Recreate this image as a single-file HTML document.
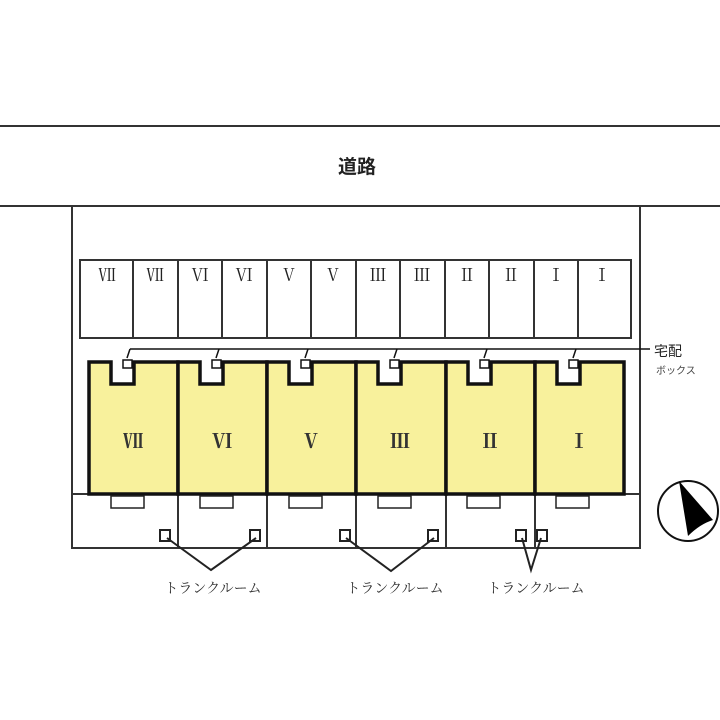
<!DOCTYPE html>
<html><head><meta charset="utf-8"><style>
html,body{margin:0;padding:0;background:#fff}
svg{display:block}
text{font-family:"Liberation Serif","Noto Serif CJK SC",serif}
.j{font-family:"Liberation Sans","Noto Sans CJK JP",sans-serif}
</style></head><body>
<svg width="720" height="720" viewBox="0 0 720 720" xmlns="http://www.w3.org/2000/svg">
<rect width="720" height="720" fill="#fff"/>
<g stroke="#333" stroke-width="2" fill="none">
<line x1="0" y1="126" x2="720" y2="126"/>
<line x1="0" y1="206" x2="720" y2="206"/>
<polyline points="72,206 72,548 640,548 640,206"/>
<rect x="80" y="260" width="551" height="78"/>
</g>
<g stroke="#333" stroke-width="2">
<line x1="133" y1="260" x2="133" y2="338"/>
<line x1="178" y1="260" x2="178" y2="338"/>
<line x1="222" y1="260" x2="222" y2="338"/>
<line x1="267" y1="260" x2="267" y2="338"/>
<line x1="311" y1="260" x2="311" y2="338"/>
<line x1="356" y1="260" x2="356" y2="338"/>
<line x1="400" y1="260" x2="400" y2="338"/>
<line x1="445" y1="260" x2="445" y2="338"/>
<line x1="489" y1="260" x2="489" y2="338"/>
<line x1="534" y1="260" x2="534" y2="338"/>
<line x1="578" y1="260" x2="578" y2="338"/>
<line x1="72" y1="494" x2="640" y2="494"/>
<line x1="178" y1="494" x2="178" y2="548"/>
<line x1="267" y1="494" x2="267" y2="548"/>
<line x1="356" y1="494" x2="356" y2="548"/>
<line x1="446" y1="494" x2="446" y2="548"/>
<line x1="535" y1="494" x2="535" y2="548"/>
</g>
<g font-size="17" fill="#222" text-anchor="middle">
<text x="107" y="281">Ⅶ</text><text x="155" y="281">Ⅶ</text>
<text x="200" y="281">Ⅵ</text><text x="244" y="281">Ⅵ</text>
<text x="289" y="281">Ⅴ</text><text x="333" y="281">Ⅴ</text>
<text x="378" y="281">Ⅲ</text><text x="422" y="281">Ⅲ</text>
<text x="467" y="281">Ⅱ</text><text x="511" y="281">Ⅱ</text>
<text x="556" y="281">Ⅰ</text><text x="602" y="281">Ⅰ</text>
</g>
<text x="357" y="173" class="j" font-size="19" font-weight="bold" text-anchor="middle" fill="#222">道路</text>
<!-- buildings -->
<g stroke="#111" stroke-width="3.5" fill="#f8f19c">
<path d="M89,362 H111 V384 H134 V362 H178 V494 H89 Z"/>
<path d="M178,362 H200 V384 H223 V362 H267 V494 H178 Z"/>
<path d="M267,362 H289 V384 H312 V362 H356 V494 H267 Z"/>
<path d="M356,362 H378 V384 H401 V362 H446 V494 H356 Z"/>
<path d="M446,362 H468 V384 H491 V362 H535 V494 H446 Z"/>
<path d="M535,362 H557 V384 H580 V362 H624 V494 H535 Z"/>
</g>
<g font-size="20" font-weight="bold" fill="#333" text-anchor="middle">
<text x="133" y="448">Ⅶ</text><text x="222" y="448">Ⅵ</text>
<text x="311" y="448">Ⅴ</text><text x="400" y="448">Ⅲ</text>
<text x="490" y="448">Ⅱ</text><text x="579" y="448">Ⅰ</text>
</g>
<!-- delivery boxes -->
<g stroke="#111" stroke-width="1.5" fill="#fff">
<line x1="130" y1="349" x2="650" y2="349" fill="none"/>
<path d="M130,349 L127,358 M219,349 L216,358 M308,349 L305,358 M397,349 L394,358 M487,349 L484,358 M576,349 L573,358" fill="none"/>
<rect x="123" y="360" width="9" height="8"/><rect x="212" y="360" width="9" height="8"/>
<rect x="301" y="360" width="9" height="8"/><rect x="390" y="360" width="9" height="8"/>
<rect x="480" y="360" width="9" height="8"/><rect x="569" y="360" width="9" height="8"/>
</g>
<text x="654" y="356" class="j" font-size="14" fill="#222">宅配</text>
<text x="656" y="374" class="j" font-size="10" fill="#444">ボックス</text>
<!-- porches -->
<g stroke="#222" stroke-width="1.5" fill="#fff">
<rect x="111" y="496" width="33" height="12"/><rect x="200" y="496" width="33" height="12"/>
<rect x="289" y="496" width="33" height="12"/><rect x="378" y="496" width="33" height="12"/>
<rect x="467" y="496" width="33" height="12"/><rect x="556" y="496" width="33" height="12"/>
</g>
<!-- trunk rooms -->
<g stroke="#222" stroke-width="2" fill="#fff">
<rect x="160" y="530" width="10" height="11"/><rect x="250" y="530" width="10" height="11"/>
<rect x="340" y="530" width="10" height="11"/><rect x="428" y="530" width="10" height="11"/>
<rect x="516" y="530" width="10" height="11"/><rect x="537" y="530" width="10" height="11"/>
<polyline points="167,538 211,570 256,538" fill="none"/>
<polyline points="346,538 391,571 434,538" fill="none"/>
<polyline points="522,538 531,570 541,538" fill="none"/>
</g>
<g class="j" font-size="14" fill="#333" text-anchor="middle">
<text x="213" y="593">トランクルーム</text>
<text x="395" y="593">トランクルーム</text>
<text x="536" y="593">トランクルーム</text>
</g>
<!-- compass -->
<circle cx="688" cy="511" r="30" fill="none" stroke="#111" stroke-width="2"/>
<path d="M679,481 L713,520 Q700,524 688,536 Z" fill="#000"/>
</svg>
</body></html>
